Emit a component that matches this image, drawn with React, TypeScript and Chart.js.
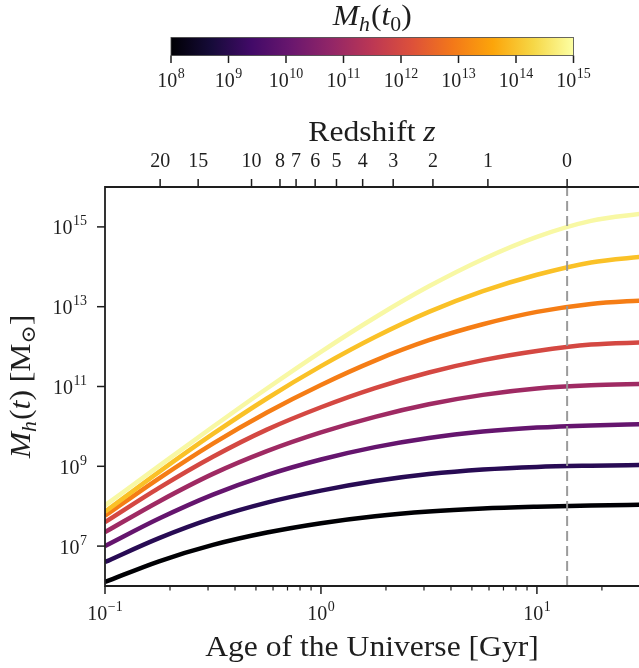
import React, { useEffect, useRef } from 'react';
import { Chart, registerables } from 'chart.js';

Chart.register(...registerables);

// ---------------- data ----------------
// ages sampled every quarter decade (Gyr)
const AGE_GYR = [0.1, 0.178, 0.316, 0.562, 1, 1.78, 3.16, 5.62, 10, 17.8, 31.6];

// log10 of halo mass M_h(t) [Msun] for each final mass M_h(t0)
const LOG_M8 = [6.1, 6.62, 7.03, 7.34, 7.575, 7.75, 7.868, 7.943, 7.987, 8.017, 8.037];
const LOG_M9 = [6.6, 7.2, 7.7, 8.09, 8.39, 8.63, 8.805, 8.92, 8.985, 9.015, 9.033];
const LOG_M10 = [7.0, 7.69, 8.29, 8.78, 9.17, 9.48, 9.71, 9.87, 9.97, 10.025, 10.055];
const LOG_M11 = [7.35, 8.12, 8.81, 9.38, 9.85, 10.24, 10.555, 10.79, 10.95, 11.03, 11.065];
const LOG_M12 = [7.6, 8.46, 9.24, 9.92, 10.48, 10.96, 11.35, 11.66, 11.89, 12.05, 12.105];
const LOG_M13 = [7.76, 8.7, 9.57, 10.35, 11.04, 11.65, 12.16, 12.56, 12.87, 13.07, 13.16];
const LOG_M14 = [7.86, 8.86, 9.81, 10.7, 11.51, 12.24, 12.87, 13.39, 13.8, 14.11, 14.26];
const LOG_M15 = [8.02, 9.01, 9.99, 10.95, 11.87, 12.73, 13.51, 14.19, 14.75, 15.15, 15.34];

const SERIES_LOGM = [LOG_M8, LOG_M9, LOG_M10, LOG_M11, LOG_M12, LOG_M13, LOG_M14, LOG_M15];
const SERIES_COLORS = ['#000004', '#280B54', '#65156E', '#9F2A63', '#D44842', '#F57D15', '#FAC127', '#F8F8A4'];

const T0_GYR = 13.8;

const X_MIN = 0.1;
const X_MAX = 29.7;
const Y_MIN = 1e6;
const Y_MAX = 1e16;

const X_MAJOR_EXP = [-1, 0, 1];
const X_MINOR = [0.2, 0.3, 0.4, 0.5, 0.6, 0.7, 0.8, 0.9, 2, 3, 4, 5, 6, 7, 8, 9, 20];
const Y_TICK_EXP = [7, 9, 11, 13, 15];

const Z_LABELS = ['20', '15', '10', '8', '7', '6', '5', '4', '3', '2', '1', '0'];
const Z_AGE_GYR = [0.18, 0.27, 0.477, 0.646, 0.767, 0.94, 1.18, 1.56, 2.16, 3.3, 5.93, 13.8];

const CB_EXP = [8, 9, 10, 11, 12, 13, 14, 15];
const INFERNO_STOPS = ['#000004', '#160b39', '#420a68', '#6a176e', '#932667', '#bc3754', '#dd513a', '#f37819', '#fca50a', '#f6d746', '#fcffa4'];

// ---------------- text helpers ----------------
const SERIF = "'Liberation Serif', 'DejaVu Serif', 'DejaVu Sans', serif";
const INK = '#1e1e1e';
const TICK_FS = 20;
const SUP_FS = 14;
const TITLE_FS = 29;
const SUB_FS = 20;
const TITLE_HS = 1.09;

type Part = { t: string; size: number; italic?: boolean; dy?: number; dx?: number };

function fontOf(p: Part) {
  return `${p.italic ? 'italic ' : ''}${p.size}px ${SERIF}`;
}

function drawParts(ctx: CanvasRenderingContext2D, parts: Part[], x: number, y: number, align: 'left' | 'center' | 'right', hs = 1) {
  ctx.save();
  ctx.textBaseline = 'alphabetic';
  ctx.textAlign = 'left';
  const widths = parts.map((p) => {
    ctx.font = fontOf(p);
    return ctx.measureText(p.t).width + (p.dx || 0);
  });
  const total = widths.reduce((a, b) => a + b, 0) * hs;
  const start = align === 'left' ? x : align === 'center' ? x - total / 2 : x - total;
  ctx.translate(start, y);
  ctx.scale(hs, 1);
  let cx = 0;
  parts.forEach((p, i) => {
    ctx.font = fontOf(p);
    ctx.fillText(p.t, cx + (p.dx || 0), p.dy || 0);
    cx += widths[i];
  });
  ctx.restore();
}

function powParts(exp: number): Part[] {
  const e = exp < 0 ? '\u2212' + Math.abs(exp) : String(exp);
  return [
    { t: '10', size: TICK_FS },
    { t: e, size: SUP_FS, dy: -9, dx: 0.5 },
  ];
}

const decorPlugin = {
  id: 'decor',
  afterDraw(chart: any) {
    const { ctx, chartArea: a, scales } = chart;
    const xs = scales.x;
    const ys = scales.y;
    const xt = scales.xTop;
    ctx.save();
    ctx.fillStyle = INK;
    ctx.strokeStyle = INK;

    // spines
    ctx.lineWidth = 1.8;
    ctx.beginPath();
    ctx.moveTo(a.right, a.top);
    ctx.lineTo(a.left, a.top);
    ctx.lineTo(a.left, a.bottom);
    ctx.lineTo(a.right, a.bottom);
    ctx.stroke();

    // bottom axis ticks
    ctx.lineWidth = 1.5;
    X_MAJOR_EXP.forEach((e) => {
      const px = xs.getPixelForValue(Math.pow(10, e));
      ctx.beginPath();
      ctx.moveTo(px, a.bottom);
      ctx.lineTo(px, a.bottom + 8);
      ctx.stroke();
      drawParts(ctx, powParts(e), px, a.bottom + 34, 'center');
    });
    ctx.lineWidth = 1.2;
    X_MINOR.forEach((v) => {
      if (v < X_MIN || v > X_MAX) return;
      const px = xs.getPixelForValue(v);
      ctx.beginPath();
      ctx.moveTo(px, a.bottom);
      ctx.lineTo(px, a.bottom + 4.5);
      ctx.stroke();
    });

    // left axis ticks
    ctx.lineWidth = 1.5;
    Y_TICK_EXP.forEach((e) => {
      const py = ys.getPixelForValue(Math.pow(10, e));
      ctx.beginPath();
      ctx.moveTo(a.left - 8, py);
      ctx.lineTo(a.left, py);
      ctx.stroke();
      drawParts(ctx, powParts(e), a.left - 18, py + 7.5, 'right');
    });

    // top (redshift) axis ticks
    Z_AGE_GYR.forEach((t, i) => {
      const px = xt.getPixelForValue(t);
      ctx.beginPath();
      ctx.moveTo(px, a.top - 8);
      ctx.lineTo(px, a.top);
      ctx.stroke();
      drawParts(ctx, [{ t: Z_LABELS[i], size: TICK_FS }], px, a.top - 20, 'center');
    });

    const cxMid = (a.left + a.right) / 2;

    // axis titles
    drawParts(ctx, [{ t: 'Age of the Universe [Gyr]', size: TITLE_FS }], cxMid, a.bottom + 70, 'center', TITLE_HS);
    drawParts(ctx, [{ t: 'Redshift ', size: TITLE_FS }, { t: 'z', size: TITLE_FS, italic: true }], cxMid, a.top - 46, 'center', TITLE_HS);

    ctx.save();
    ctx.translate(30, (a.top + a.bottom) / 2);
    ctx.rotate(-Math.PI / 2);
    drawParts(
      ctx,
      [
        { t: 'M', size: TITLE_FS, italic: true },
        { t: 'h', size: SUB_FS, italic: true, dy: 6 },
        { t: '(', size: TITLE_FS, dx: 1 },
        { t: 't', size: TITLE_FS, italic: true },
        { t: ')', size: TITLE_FS },
        { t: ' [M', size: TITLE_FS },
        { t: '\u2299', size: SUB_FS, dy: 5 },
        { t: ']', size: TITLE_FS },
      ],
      0,
      0,
      'center',
      TITLE_HS,
    );
    ctx.restore();

    // colorbar
    const cbL = 171;
    const cbR = 573.5;
    const cbT = 37.5;
    const cbB = 55.5;
    const grad = ctx.createLinearGradient(cbL, 0, cbR, 0);
    INFERNO_STOPS.forEach((c, i) => grad.addColorStop(i / (INFERNO_STOPS.length - 1), c));
    ctx.fillStyle = grad;
    ctx.fillRect(cbL, cbT, cbR - cbL, cbB - cbT);
    ctx.fillStyle = INK;
    ctx.lineWidth = 0.8;
    ctx.strokeStyle = '#444';
    ctx.strokeRect(cbL, cbT, cbR - cbL, cbB - cbT);
    ctx.strokeStyle = INK;
    ctx.lineWidth = 1.5;
    CB_EXP.forEach((e, i) => {
      const px = cbL + (i / (CB_EXP.length - 1)) * (cbR - cbL);
      ctx.beginPath();
      ctx.moveTo(px, cbB);
      ctx.lineTo(px, cbB + 7.5);
      ctx.stroke();
      drawParts(ctx, powParts(e), px, 87, 'center');
    });
    drawParts(
      ctx,
      [
        { t: 'M', size: TITLE_FS, italic: true },
        { t: 'h', size: SUB_FS, italic: true, dy: 6 },
        { t: '(', size: TITLE_FS, dx: 1 },
        { t: 't', size: TITLE_FS, italic: true },
        { t: '0', size: SUB_FS, dy: 6 },
        { t: ')', size: TITLE_FS },
      ],
      (cbL + cbR) / 2,
      25,
      'center',
      TITLE_HS,
    );

    ctx.restore();
  },
};

export default function App() {
  const ref = useRef<HTMLCanvasElement | null>(null);

  useEffect(() => {
    document.body.style.margin = '0';
    const canvas = ref.current;
    if (!canvas) return;

    const curveSets = SERIES_LOGM.map((logs, i) => ({
      label: `M_h(t0) = 1e${CB_EXP[i]}`,
      data: AGE_GYR.map((t, j) => ({ x: t, y: Math.pow(10, logs[j]) })),
      borderColor: SERIES_COLORS[i],
      backgroundColor: SERIES_COLORS[i],
      borderWidth: 4.5,
      pointRadius: 0,
      fill: false,
      cubicInterpolationMode: 'monotone' as const,
      order: SERIES_LOGM.length - i,
    }));

    const t0Line = {
      label: 't0',
      data: [
        { x: T0_GYR, y: Y_MIN },
        { x: T0_GYR, y: Y_MAX },
      ],
      borderColor: 'rgba(150,150,150,0.95)',
      borderWidth: 2,
      borderDash: [10, 5],
      pointRadius: 0,
      fill: false,
      tension: 0,
      order: 0,
    };

    const hiddenAxis = {
      grid: { display: false, drawTicks: false },
      border: { display: false },
      ticks: { display: false },
    };

    const chart = new Chart(canvas, {
      type: 'line',
      data: { datasets: [...curveSets, t0Line] as any },
      options: {
        animation: false,
        responsive: false,
        devicePixelRatio: 1,
        parsing: false as any,
        layout: { padding: 0 },
        plugins: { legend: { display: false }, tooltip: { enabled: false } },
        scales: {
          x: {
            type: 'logarithmic',
            position: 'bottom',
            min: X_MIN,
            max: X_MAX,
            bounds: 'data',
            ...hiddenAxis,
            afterFit: (s: any) => {
              s.height = 82;
            },
          },
          xTop: {
            type: 'logarithmic',
            position: 'top',
            min: X_MIN,
            max: X_MAX,
            bounds: 'data',
            ...hiddenAxis,
            afterFit: (s: any) => {
              s.height = 187;
            },
          },
          y: {
            type: 'logarithmic',
            position: 'left',
            min: Y_MIN,
            max: Y_MAX,
            bounds: 'data',
            ...hiddenAxis,
            afterFit: (s: any) => {
              s.width = 105;
            },
          },
        } as any,
      },
      plugins: [decorPlugin],
    });

    return () => chart.destroy();
  }, []);

  return (
    <div style={{ position: 'fixed', left: 0, top: 0, width: 639, height: 668, background: '#fff' }}>
      <canvas ref={ref} width={639} height={668} style={{ display: 'block', width: 639, height: 668 }} />
    </div>
  );
}
